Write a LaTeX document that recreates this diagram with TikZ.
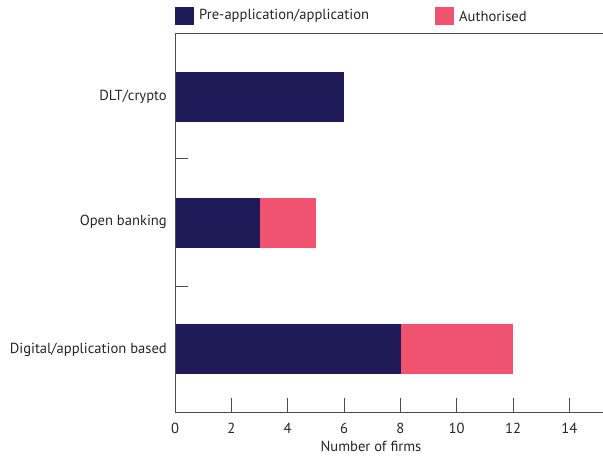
\documentclass[tikz,border=0pt]{standalone}
\usepackage{fontspec}
\setmainfont{PT Sans}
\definecolor{appblue}{RGB}{31,27,88}
\definecolor{authpink}{RGB}{239,83,112}

\begin{document}
\begin{tikzpicture}
            [x=1pt,y=-1pt,
             every node/.style={font=\fontsize{14.6}{17}\selectfont,text=black!85,inner sep=0pt},
             axis/.style={line width=1pt,draw=black!70},
             appbar/.style={fill=appblue},
             authbar/.style={fill=authpink}]
            \useasboundingbox (0,0) rectangle (603,456);
            % legend
            \fill[appblue] (175,7) rectangle (194,25);
            \node[anchor=west] (lapp) at (199,16) {Pre-application/application};
            \fill[authpink] (435,7) rectangle (454,25);
            \node[anchor=west] (lauth) at (459,16) {Authorised};
            % frame
            \draw[axis] (603,33) -- (175,33) -- (175,412) -- (603,412);
            \draw[axis] (175,158) -- (188,158);
            \draw[axis] (175,286) -- (188,286);
            % bars
            \fill[appbar] (176,72) rectangle (344,122);
            \fill[appbar] (176,198) rectangle (260,248);
            \fill[authbar] (260,198) rectangle (316,248);
            \fill[appbar] (176,324) rectangle (401,374);
            \fill[authbar] (401,324) rectangle (513,374);
            % categories
            \node[anchor=east] (dlt) at (167,97) {DLT/crypto};
            \node[anchor=east] (open) at (167,222) {Open banking};
            \node[anchor=east] (digital) at (167,350) {Digital/application based};
            % ticks
            \foreach \v in {2,4,...,14}
                \draw[axis] ({175+28.17*\v},398) -- ({175+28.17*\v},412);
            \foreach \v in {0,2,...,14}
                \node (t\v) at ({175+28.17*\v},428) {\v};
            \node (xlabel) at (371,446) {Number of firms};
        \end{tikzpicture}
\end{document}
